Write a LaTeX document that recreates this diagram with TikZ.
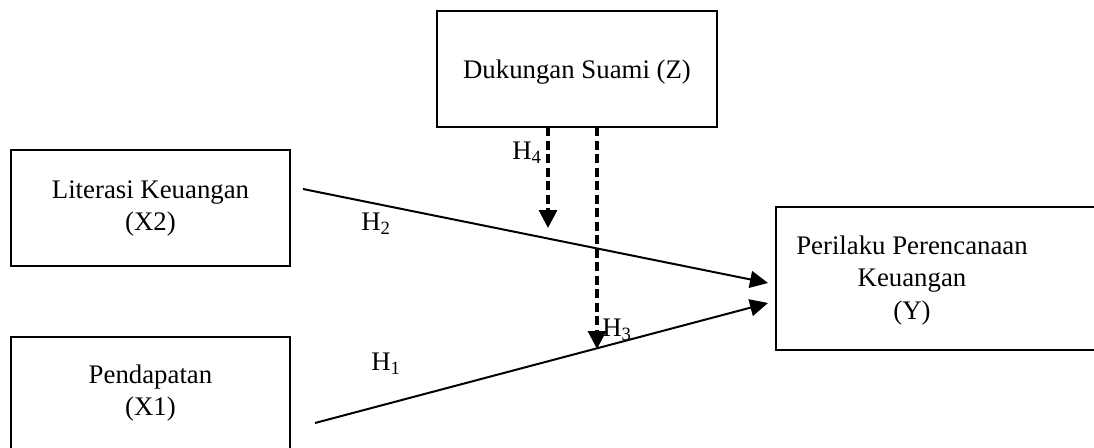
\documentclass[tikz,border=0pt]{standalone}
\usepackage{fontspec}
\setmainfont{Liberation Serif}
\usetikzlibrary{arrows.meta}
\tikzset{
  boxnode/.style={draw=black, line width=1.3pt, inner sep=0pt, align=center},
  txt/.style={inner sep=0pt, align=center, font=\fontsize{26.8}{32.5}\selectfont},
  lbl/.style={inner sep=0pt, font=\fontsize{26.8}{30}\selectfont},
  solidarrow/.style={line width=2pt, -{Triangle[width=17pt,length=18pt]}},
  dasharrow/.style={line width=3.2pt, dash pattern=on 9pt off 4.5pt, -{Triangle[width=18pt,length=18pt]}},
}
\begin{document}
\begin{tikzpicture}[x=1pt,y=-1pt]
\useasboundingbox (0,0) rectangle (1094,447);
\clip (0,0) rectangle (1094,447);
% boxes
\node[boxnode, minimum width=280pt, minimum height=116pt] (Z) at (577,69) {};
\node[txt] (Zt) at (577,72) {Dukungan Suami (Z)};
\node[boxnode, minimum width=279pt, minimum height=116pt] (X2) at (150.5,208) {};
\node[txt] (X2t) at (150.5,208.5) {Literasi Keuangan\\(X2)};
\node[boxnode, minimum width=279pt, minimum height=112pt] (X1) at (150.5,393) {};
\node[txt] (X1t) at (150.5,393) {Pendapatan\\(X1)};
\node[boxnode, minimum width=340pt, minimum height=143pt] (Y) at (946,278.5) {};
\node[txt] (Yt) at (912,280.5) {Perilaku Perencanaan\\Keuangan\\(Y)};
% connector endpoints
\coordinate (a2) at (303,189);
\coordinate (b2) at (768,283);
\coordinate (a1) at (315,423);
\coordinate (b1) at (768,303);
\coordinate (z4) at (548,127);
\coordinate (e4) at (548,228);
\coordinate (z3) at (597,127);
\coordinate (e3) at (597,349);
% arrows
\draw[solidarrow] (a2) -- (b2);
\draw[solidarrow] (a1) -- (b1);
\draw[dasharrow] (z4) -- (e4);
\draw[dasharrow] (z3) -- (e3);
% labels
\node[lbl] (H4) at (527,153) {H\textsubscript{4}};
\node[lbl] (H2) at (376,224) {H\textsubscript{2}};
\node[lbl] (H1) at (386,364) {H\textsubscript{1}};
\node[lbl] (H3) at (617,330) {H\textsubscript{3}};
\end{tikzpicture}
\end{document}
